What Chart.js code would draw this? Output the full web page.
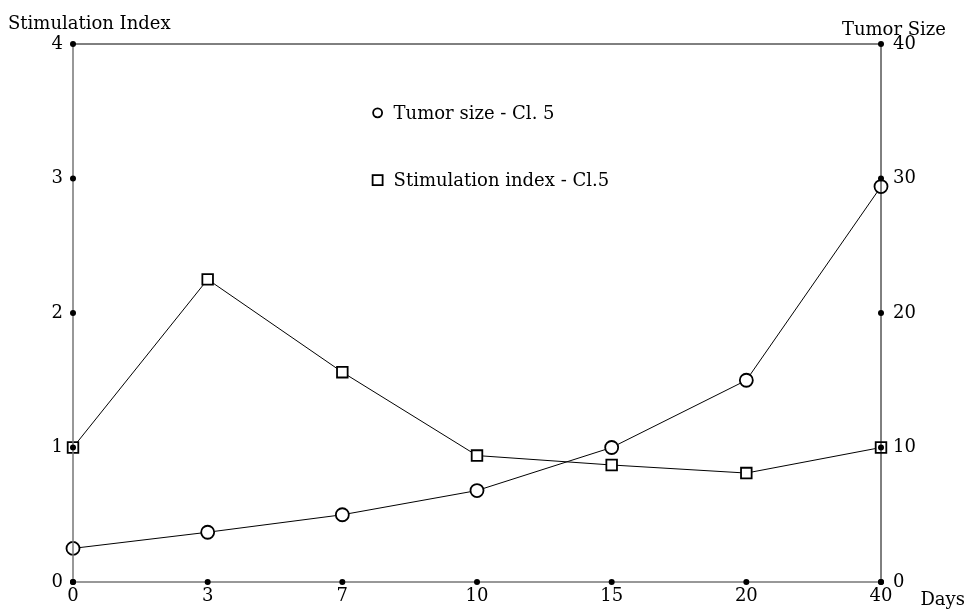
<!DOCTYPE html>
<html>
<head>
<meta charset="utf-8">
<script src="https://cdn.jsdelivr.net/npm/chart.js@4/dist/chart.umd.min.js"></script>
<style>
  body { margin: 0; background: #fff; }
  canvas { display: block; }
</style>
</head>
<body>
<canvas id="chart" width="965" height="611"></canvas>
<script>
const days = ['0', '3', '7', '10', '15', '20', '40'];
const stimulationIndex = [1.0, 2.25, 1.56, 0.94, 0.87, 0.81, 1.0];
const tumorSize = [2.5, 3.7, 5.0, 6.8, 10.0, 15.0, 29.4];
const leftTicks = [0, 1, 2, 3, 4];
const rightTicks = [0, 10, 20, 30, 40];

const FONT = '"DejaVu Serif", serif';
const SIZE = 18;

// frame, tick dots, axis titles and the inside legend
const decorations = {
    id: 'decorations',
    afterDatasetsDraw(chart) {
        const ctx = chart.ctx;
        const a = chart.chartArea;
        const x = chart.scales.x, y = chart.scales.y, y1 = chart.scales.y1;
        ctx.save();
        // frame
        ctx.lineWidth = 1.5;
        ctx.strokeStyle = '#777';
        ctx.beginPath();
        ctx.moveTo(a.left, a.top); ctx.lineTo(a.left, a.bottom); ctx.lineTo(a.right, a.bottom);
        ctx.stroke();
        ctx.strokeStyle = '#000';
        ctx.lineWidth = 1;
        ctx.beginPath();
        ctx.moveTo(a.left, a.top); ctx.lineTo(a.right, a.top); ctx.lineTo(a.right, a.bottom);
        ctx.stroke();

        // tick dots
        ctx.fillStyle = '#000';
        const dot = (px, py) => { ctx.beginPath(); ctx.arc(px, py, 3, 0, Math.PI * 2); ctx.fill(); };
        days.forEach((d, i) => dot(x.getPixelForValue(i), a.bottom));
        leftTicks.forEach(v => dot(a.left, y.getPixelForValue(v)));
        rightTicks.forEach(v => dot(a.right, y1.getPixelForValue(v)));

        // axis titles
        ctx.font = SIZE + 'px ' + FONT;
        ctx.textBaseline = 'alphabetic';
        ctx.textAlign = 'left';
        ctx.fillText('Stimulation Index', 8, 29);
        ctx.textAlign = 'right';
        ctx.fillText('Tumor Size', 946, 35);
        ctx.fillText('Days', 965, 605);

        // legend
        ctx.textAlign = 'left';
        const lx = a.left + 0.377 * (a.right - a.left);
        const ly1 = a.top + 0.128 * (a.bottom - a.top);
        const ly2 = a.top + 0.253 * (a.bottom - a.top);
        ctx.lineWidth = 1.8;
        ctx.beginPath(); ctx.arc(lx, ly1, 4.5, 0, Math.PI * 2); ctx.stroke();
        ctx.strokeRect(lx - 5, ly2 - 5, 10, 10);
        ctx.textBaseline = 'middle';
        ctx.fillText(chart.data.datasets[0].label, lx + 16, ly1 + 1);
        ctx.fillText(chart.data.datasets[1].label, lx + 16, ly2 + 1);
        ctx.restore();
    }
};

new Chart(document.getElementById('chart'), {
    type: 'line',
    data: {
        labels: days,
        datasets: [
            {
                label: 'Tumor size - Cl. 5',
                data: tumorSize,
                yAxisID: 'y1',
                borderColor: '#000',
                borderWidth: 1,
                pointStyle: 'circle',
                pointRadius: 6.5,
                pointBorderWidth: 1.8,
                pointBackgroundColor: '#fff',
                pointBorderColor: '#000',
                tension: 0
            },
            {
                label: 'Stimulation index - Cl.5',
                data: stimulationIndex,
                yAxisID: 'y',
                borderColor: '#000',
                borderWidth: 1,
                pointStyle: 'rect',
                pointRadius: 7.5,
                pointBorderWidth: 1.8,
                pointBackgroundColor: '#fff',
                pointBorderColor: '#000',
                tension: 0
            }
        ]
    },
    options: {
        responsive: false,
        animation: false,
        layout: { padding: { top: 44, left: 0, right: 0, bottom: 0 }, autoPadding: false },
        plugins: { legend: { display: false }, tooltip: { enabled: false } },
        scales: {
            x: {
                type: 'category',
                offset: false,
                grid: { display: false, drawTicks: false },
                border: { display: false },
                ticks: { color: '#000', font: { family: FONT, size: SIZE }, padding: 4, maxRotation: 0 },
                afterFit(s) { s.height = 29; }
            },
            y: {
                position: 'left',
                min: 0, max: 4,
                grid: { display: false, drawTicks: false },
                border: { display: false },
                ticks: { stepSize: 1, color: '#000', font: { family: FONT, size: SIZE }, padding: 10 },
                afterFit(s) { s.width = 73; }
            },
            y1: {
                position: 'right',
                min: 0, max: 40,
                grid: { display: false, drawTicks: false },
                border: { display: false },
                ticks: { stepSize: 10, color: '#000', font: { family: FONT, size: SIZE }, padding: 12 },
                afterFit(s) { s.width = 84; }
            }
        }
    },
    plugins: [decorations]
});
</script>
</body>
</html>
